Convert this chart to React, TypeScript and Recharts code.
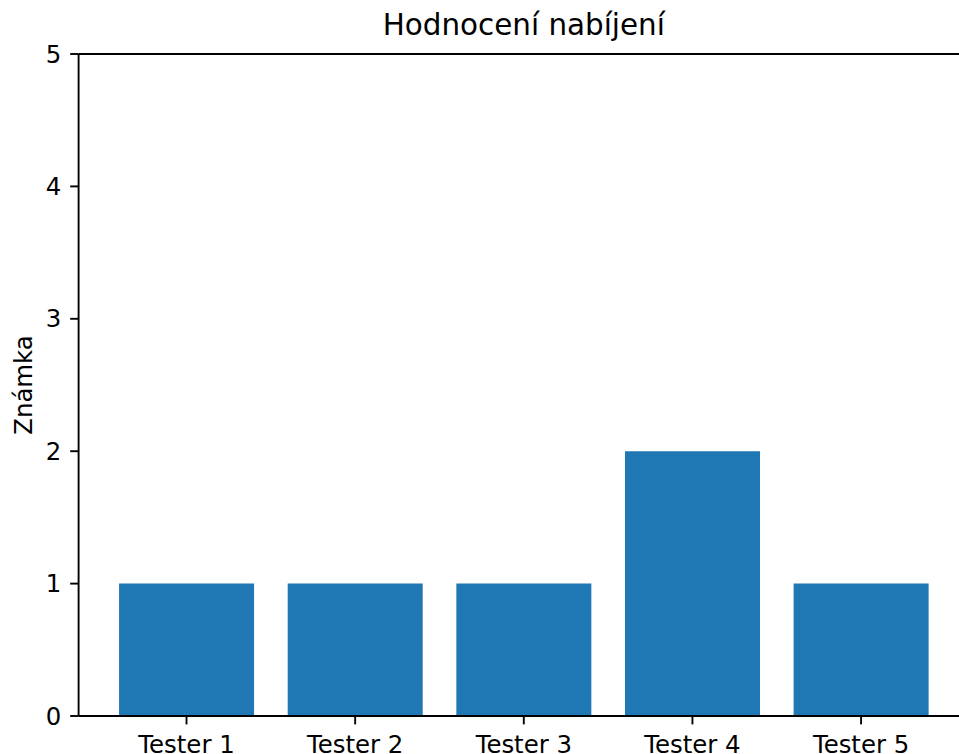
import { BarChart, Bar, XAxis, YAxis, ReferenceLine } from "recharts";

const testers = ["Tester 1", "Tester 2", "Tester 3", "Tester 4", "Tester 5"];
const grades = [1, 1, 1, 2, 1];
const gradeTicks = [0, 1, 2, 3, 4, 5];

const titleText = "Hodnocení nabíjení";
const yLabel = "Známka";

const FONT = "'DejaVu Sans', sans-serif";
const LINE = 1.9;

function App() {
  const data = testers.map((name, i) => ({ name, grade: grades[i] }));

  return (
    <div
      style={{
        position: "absolute",
        left: 0,
        top: 0,
        width: 959,
        height: 754,
        overflow: "hidden",
        background: "#fff",
      }}
    >
      <div
        style={{
          position: "absolute",
          left: 78.6,
          width: 890.4,
          top: 11.1,
          textAlign: "center",
          fontFamily: FONT,
          fontSize: 29.4,
          lineHeight: "29.4px",
          color: "#000",
        }}
      >
        {titleText}
      </div>
      <BarChart
        width={1000}
        height={754}
        data={data}
        margin={{ top: 54, right: 31, left: 0, bottom: 0 }}
        barCategoryGap="10%"
      >
        <XAxis
          dataKey="name"
          height={38}
          padding={{ left: 23.6, right: 23.6 }}
          axisLine={{ stroke: "#000", strokeWidth: LINE }}
          tickLine={{ stroke: "#000", strokeWidth: LINE }}
          tickSize={8.4}
          tickMargin={11.5}
          tick={{ fill: "#000", fontSize: 24.4, fontFamily: FONT }}
          interval={0}
        />
        <YAxis
          width={78.6}
          domain={[0, 5]}
          ticks={gradeTicks}
          axisLine={{ stroke: "#000", strokeWidth: LINE }}
          tickLine={{ stroke: "#000", strokeWidth: LINE }}
          tickSize={8.4}
          tickMargin={9}
          tick={{ fill: "#000", fontSize: 24.4, fontFamily: FONT }}
          label={{
            value: yLabel,
            angle: -90,
            position: "insideLeft",
            offset: 23,
            style: {
              textAnchor: "middle",
              fill: "#000",
              fontSize: 24.4,
              fontFamily: FONT,
            },
          }}
        />
        <ReferenceLine y={5} stroke="#000" strokeWidth={LINE} />
        <Bar dataKey="grade" fill="#1f77b4" isAnimationActive={false} />
      </BarChart>
    </div>
  );
}

export default App;
